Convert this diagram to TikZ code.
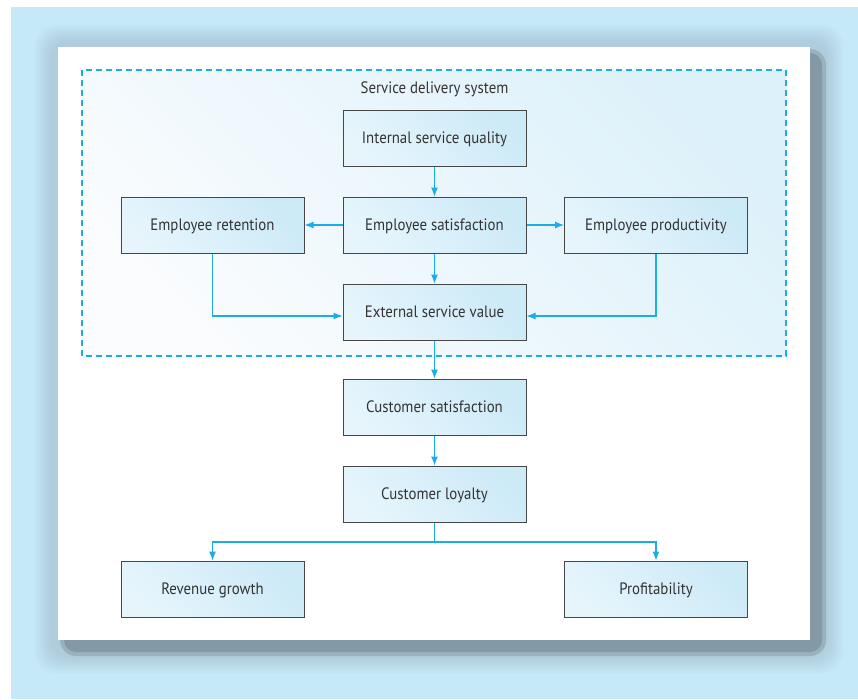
\documentclass[tikz,border=0pt]{standalone}
\usepackage{fontspec}
\setmainfont{PT Sans}[FakeStretch=0.9]
\usetikzlibrary{arrows.meta,positioning}
\definecolor{bgblue}{HTML}{C6E9F8}
\definecolor{shadowc}{HTML}{8499A6}
\definecolor{arrowc}{HTML}{1AADE6}
\definecolor{boxl}{HTML}{E6F5FC}
\definecolor{boxd}{HTML}{CDEAF7}
\definecolor{framel}{HTML}{FAFCFE}
\definecolor{framed}{HTML}{DDF1FA}
\definecolor{txt}{HTML}{333333}
\begin{document}
\begin{tikzpicture}[x=1pt,y=-1pt,
  boxn/.style={draw=txt!90,line width=1pt,minimum width=183pt,minimum height=56pt,
    left color=boxl,right color=boxd,shading angle=135,inner sep=0pt,
    text=txt,font=\fontsize{16.5}{18}\selectfont,text height=12pt,text depth=2pt},
  conn/.style={draw=arrowc,line width=1.1pt,-{Latex[length=9pt,width=7pt]}},
  line/.style={draw=arrowc,line width=1.1pt}]
\useasboundingbox (0,0) rectangle (858,699);
\fill[white] (0,0) rectangle (858,699);
\fill[bgblue] (11,7) rectangle (858,699);
% soft shadow
\foreach \i in {0,...,6}{
  \fill[shadowc,opacity=0.05,rounded corners=20pt] ({50-\i*2.5},{40-\i*2.5}) rectangle ({828+\i*2.5},{658+\i*2.5});
}
\fill[shadowc,opacity=0.5,rounded corners=16pt] (60,49) rectangle (826,656);
\fill[shadowc,rounded corners=12pt] (64,53) rectangle (822,652);
\fill[white] (58,47) rectangle (810,640);
% dashed frame
\shade[left color=framel,right color=framed,shading angle=135] (82,70) rectangle (786,356);
\draw[arrowc,line width=1.1pt,dash pattern=on 6pt off 4pt] (82,70) rectangle (786,356);
\node[text=txt,font=\fontsize{16.5}{18}\selectfont] (title) at (434.5,89) {Service delivery system};
% boxes
\node[boxn] (iq) at (434.5,138) {Internal service quality};
\node[boxn] (es) at (434.5,225) {Employee satisfaction};
\node[boxn] (er) at (212.5,225) {Employee retention};
\node[boxn] (ep) at (656,225) {Employee productivity};
\node[boxn] (ev) at (434.5,312) {External service value};
\node[boxn] (cs) at (434.5,407) {Customer satisfaction};
\node[boxn] (cl) at (434.5,494) {Customer loyalty};
\node[boxn] (rg) at (212.5,589) {Revenue growth};
\node[boxn] (pr) at (656,589) {Profitability};
\coordinate (br) at (434.5,542);
% connectors
\draw[conn] (iq.south) -- (es.north);
\draw[conn] (es.west) -- (er.east);
\draw[conn] (es.east) -- (ep.west);
\draw[conn] (es.south) -- (ev.north);
\draw[conn] (er.south) |- ([yshift=-4pt]ev.west);
\draw[conn] (ep.south) |- ([yshift=-4pt]ev.east);
\draw[conn] (ev.south) -- (cs.north);
\draw[conn] (cs.south) -- (cl.north);
\draw[line] (cl.south) -- (br);
\draw[conn] (br) -| (rg.north);
\draw[conn] (br) -| (pr.north);
\end{tikzpicture}
\end{document}
